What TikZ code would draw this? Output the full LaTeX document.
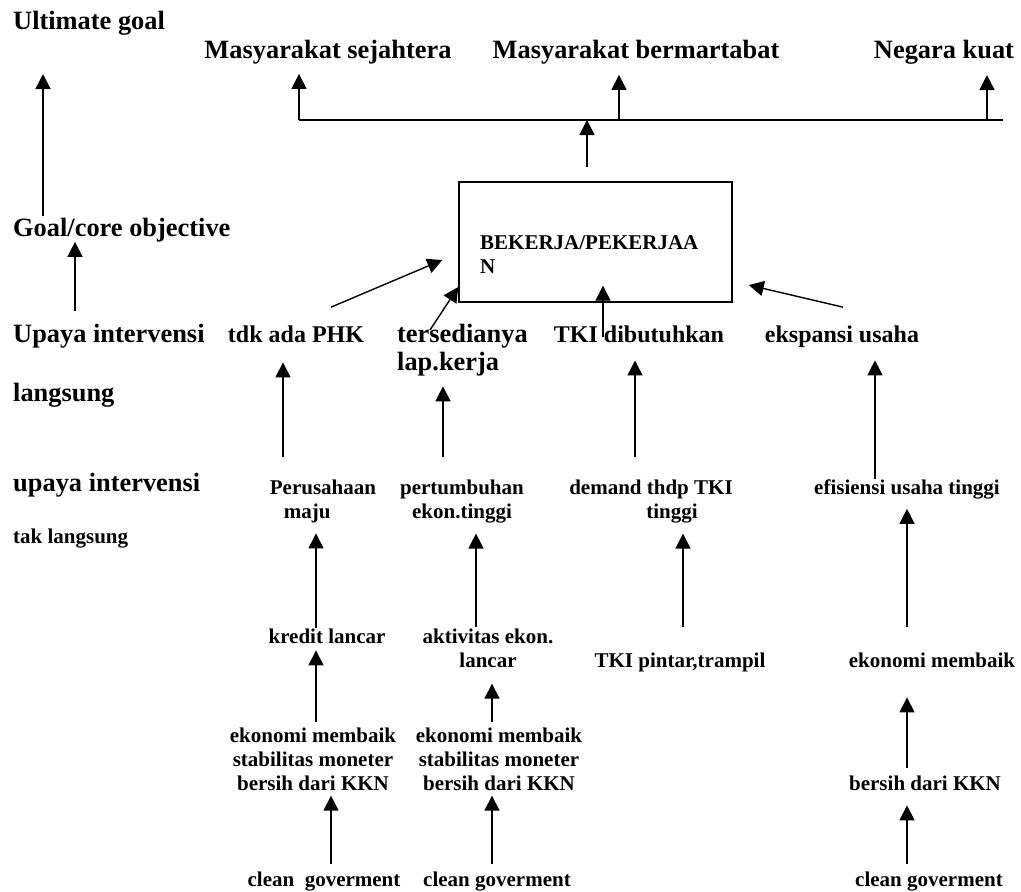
\documentclass[tikz,border=0pt]{standalone}
\usepackage{fontspec}
\setmainfont{Liberation Serif}
\usetikzlibrary{arrows.meta}

\newcommand{\fbig}{\fontsize{26.4}{28}\selectfont\bfseries}
\newcommand{\fmid}{\fontsize{24}{28}\selectfont\bfseries}
\newcommand{\fsmall}{\fontsize{21}{24}\selectfont\bfseries}

\begin{document}
\begin{tikzpicture}[x=1pt, y=-1pt,
    lbl/.style={inner sep=0pt, font=\fbig},
    mid/.style={inner sep=0pt, font=\fmid},
    txt/.style={inner sep=0pt, font=\fsmall, align=center},
    arr/.style={-{Triangle[length=15pt,width=15pt]}, line width=1.4pt},
    line/.style={line width=1.4pt}]
    \useasboundingbox (0,0) rectangle (1021,892);

    % left column
    \node[lbl, anchor=base west] (ult) at (13,29) {Ultimate goal};
    \node[lbl, anchor=base west] (goal) at (13,236) {Goal/core objective};
    \node[lbl, anchor=base west] (langsung) at (13,342) {Upaya intervensi};
    \node[lbl, anchor=base west] (langsung2) at (13,401) {langsung};
    \node[lbl, anchor=base west] (taklangsung) at (13,491) {upaya intervensi};
    \node[txt, anchor=base west] (taklangsung2) at (13,543) {tak langsung};

    \draw[arr, shorten <=1pt, shorten >=39pt] (goal.north -| 43,0) -- (ult.south -| 43,0);
    \draw[arr, shorten <=12pt] (langsung.north -| 75,0) -- (goal.south -| 75,0);

    % ultimate goals
    \node[lbl, anchor=base] (sejahtera) at (328,58) {Masyarakat sejahtera};
    \node[lbl, anchor=base] (martabat) at (636,58) {Masyarakat bermartabat};
    \node[lbl, anchor=base] (negara) at (944,58) {Negara kuat};

    \coordinate (barL) at (299,120);
    \coordinate (barR) at (1003,120);
    \draw[line] (barL) -- (barR);
    \draw[arr, shorten >=10pt] (barL) -- (barL |- sejahtera.south);
    \draw[arr, shorten >=11pt] (barL -| 619,0) -- (martabat.south -| 619,0);
    \draw[arr, shorten >=11pt] (barL -| 987,0) -- (negara.south -| 987,0);

    % core objective
    \node[draw, line width=1.4pt, minimum width=273pt, minimum height=120pt, inner sep=0pt] (kerja) at (595.5,242) {};
    \node[txt, align=left, anchor=north west] (kerjatxt) at (480,235.5) {BEKERJA/PEKERJAA\\N};
    \draw[arr, shorten <=14pt] (kerja.north -| 587,0) -- (barL -| 587,0);

    % intervensi langsung
    \node[mid, anchor=base] (tdk) at (296,342) {tdk ada PHK};
    \node[lbl, align=left, anchor=north west] (ters) at (397,324) {tersedianya\\lap.kerja};
    \node[mid, anchor=base] (tki) at (639,342) {TKI dibutuhkan};
    \node[mid, anchor=base] (ekspansi) at (842,342) {ekspansi usaha};

    \draw[arr] ([xshift=35pt,yshift=18pt]tdk.north) -- ([xshift=-16pt,yshift=-18pt]kerja.west);
    \draw[arr] ([xshift=33pt,yshift=-6pt]ters.north west) -- ([yshift=-45pt]kerja.west);
    \draw[arr] ([xshift=-36pt,yshift=-12pt]tki.north) -- ([xshift=7.5pt,yshift=17pt]kerja.south);
    \draw[arr] ([xshift=1pt,yshift=18pt]ekspansi.north) -- ([xshift=16pt,yshift=-43pt]kerja.east);

    % intervensi tak langsung
    \node[txt, anchor=north] (maju) at (323,480) {Perusahaan\\maju\hspace*{1.5em}};
    \node[txt, anchor=north] (tumbuh) at (462,480) {pertumbuhan\\ekon.tinggi};
    \node[txt, anchor=north] (demand) at (651,480) {demand thdp TKI\\\hspace*{2em}tinggi};
    \node[txt, anchor=base] (efisiensi) at (907,494) {efisiensi usaha tinggi};

    \draw[arr, shorten <=23pt, shorten >=20pt] (maju.north -| 283,0) -- (tdk.south -| 283,0);
    \draw[arr, shorten <=23pt, shorten >=10pt] (tumbuh.north -| 443,0) -- (ters.south -| 443,0);
    \draw[arr, shorten <=23pt, shorten >=18pt] (demand.north -| 635,0) -- (tki.south -| 635,0);
    \draw[arr, shorten >=13pt] (efisiensi.north -| 875,0) -- (ekspansi.south -| 875,0);

    \node[txt, anchor=base] (kredit) at (327,643) {kredit lancar};
    \node[txt, anchor=north] (aktivitas) at (488,628.5) {aktivitas ekon.\\lancar};
    \node[txt, anchor=base] (pintar) at (680,667) {TKI pintar,trampil};
    \node[txt, anchor=base] (ekonomiR) at (932,667) {ekonomi membaik};

    \draw[arr, shorten >=10pt] (kredit.north -| 316,0) -- (maju.south -| 316,0);
    \draw[arr, shorten <=1.5pt, shorten >=10pt] (aktivitas.north -| 476,0) -- (tumbuh.south -| 476,0);
    \draw[arr, shorten <=25.5pt, shorten >=10pt] (pintar.north -| 683,0) -- (demand.south -| 683,0);
    \draw[arr, shorten <=25.5pt, shorten >=10pt] (ekonomiR.north -| 907,0) -- (efisiensi.south -| 907,0);

    \node[txt, anchor=north] (bersihA) at (313,727.5) {ekonomi membaik\\stabilitas moneter\\bersih dari KKN};
    \node[txt, anchor=north] (bersihB) at (499,727.5) {ekonomi membaik\\stabilitas moneter\\bersih dari KKN};
    \node[txt, anchor=base] (bersihR) at (925,790) {bersih dari KKN};

    \draw[arr, shorten <=5.5pt, shorten >=7pt] (bersihA.north -| 316,0) -- (kredit.south -| 316,0);
    \draw[arr, shorten <=5.5pt, shorten >=16pt] (bersihB.north -| 492,0) -- (aktivitas.south -| 492,0);
    \draw[arr, shorten <=7.5pt, shorten >=30pt] (bersihR.north -| 907,0) -- (ekonomiR.south -| 907,0);

    \node[txt, anchor=base] (cleanA) at (324,886) {clean\ \ goverment};
    \node[txt, anchor=base] (cleanB) at (497,886) {clean goverment};
    \node[txt, anchor=base] (cleanR) at (929,886) {clean goverment};

    \draw[arr, shorten <=7pt, shorten >=5pt] (cleanA.north -| 331,0) -- (bersihA.south -| 331,0);
    \draw[arr, shorten <=7pt, shorten >=5pt] (cleanB.north -| 492,0) -- (bersihB.south -| 492,0);
    \draw[arr, shorten <=7pt, shorten >=15pt] (cleanR.north -| 907,0) -- (bersihR.south -| 907,0);
\end{tikzpicture}
\end{document}
